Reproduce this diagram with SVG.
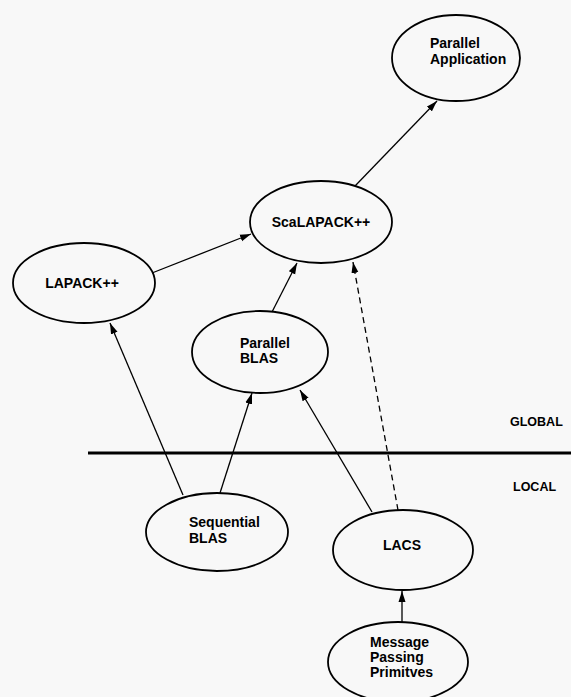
<svg xmlns="http://www.w3.org/2000/svg" width="571" height="697" viewBox="0 0 571 697">
<style>
.n ellipse{fill:none;stroke:#000;stroke-width:1.8}
.n text,.lab{font-family:"Liberation Sans",Arial,sans-serif;font-weight:bold;font-size:14px;fill:#000}
.lab{font-size:12.5px}
.c line{stroke:#000;stroke-width:1.3}
.d{stroke-dasharray:6 4}
</style>
<defs>
<marker id="ah" markerUnits="userSpaceOnUse" markerWidth="12" markerHeight="8" refX="11" refY="4" orient="auto">
<path d="M0,0.5 L11,4 L0,7.5 Z" fill="#000"/>
</marker>
</defs>
<rect width="571" height="697" fill="#f8f8f8"/>
<g class="c" id="connectors">
<line x1="355" y1="186" x2="437" y2="101" marker-end="url(#ah)"/>
<line x1="152" y1="273" x2="251" y2="234" marker-end="url(#ah)"/>
<line x1="272" y1="312" x2="297" y2="263" marker-end="url(#ah)"/>
<line class="d" x1="398" y1="510" x2="353" y2="262" marker-end="url(#ah)"/>
<line x1="183" y1="495" x2="110" y2="323" marker-end="url(#ah)"/>
<line x1="220" y1="493" x2="252" y2="393" marker-end="url(#ah)"/>
<line x1="372" y1="512" x2="300" y2="390" marker-end="url(#ah)"/>
<line x1="402" y1="622" x2="402" y2="591" marker-end="url(#ah)"/>
</g>
<g id="divider">
<line x1="88" y1="453" x2="571" y2="453" stroke="#000" stroke-width="3"/>
<text class="lab" x="510" y="426">GLOBAL</text>
<text class="lab" x="513" y="491">LOCAL</text>
</g>
<g class="n" id="parallel-application">
<ellipse cx="456" cy="58" rx="64" ry="43"/>
<text x="430" y="48">Parallel</text>
<text x="430" y="64">Application</text>
</g>
<g class="n" id="scalapack">
<ellipse cx="321" cy="222" rx="71" ry="41"/>
<text x="321" y="227" text-anchor="middle">ScaLAPACK++</text>
</g>
<g class="n" id="lapack">
<ellipse cx="84" cy="283" rx="71" ry="40"/>
<text x="82" y="288" text-anchor="middle">LAPACK++</text>
</g>
<g class="n" id="parallel-blas">
<ellipse cx="260" cy="352" rx="68" ry="41"/>
<text x="240" y="348">Parallel</text>
<text x="240" y="363">BLAS</text>
</g>
<g class="n" id="sequential-blas">
<ellipse cx="217" cy="532" rx="71" ry="39"/>
<text x="189" y="527">Sequential</text>
<text x="189" y="543">BLAS</text>
</g>
<g class="n" id="lacs">
<ellipse cx="403" cy="550" rx="70" ry="40"/>
<text x="402" y="550" text-anchor="middle">LACS</text>
</g>
<g class="n" id="message-passing">
<ellipse cx="398" cy="662" rx="70" ry="40"/>
<text x="370" y="647">Message</text>
<text x="370" y="662">Passing</text>
<text x="370" y="677">Primitves</text>
</g>
</svg>
